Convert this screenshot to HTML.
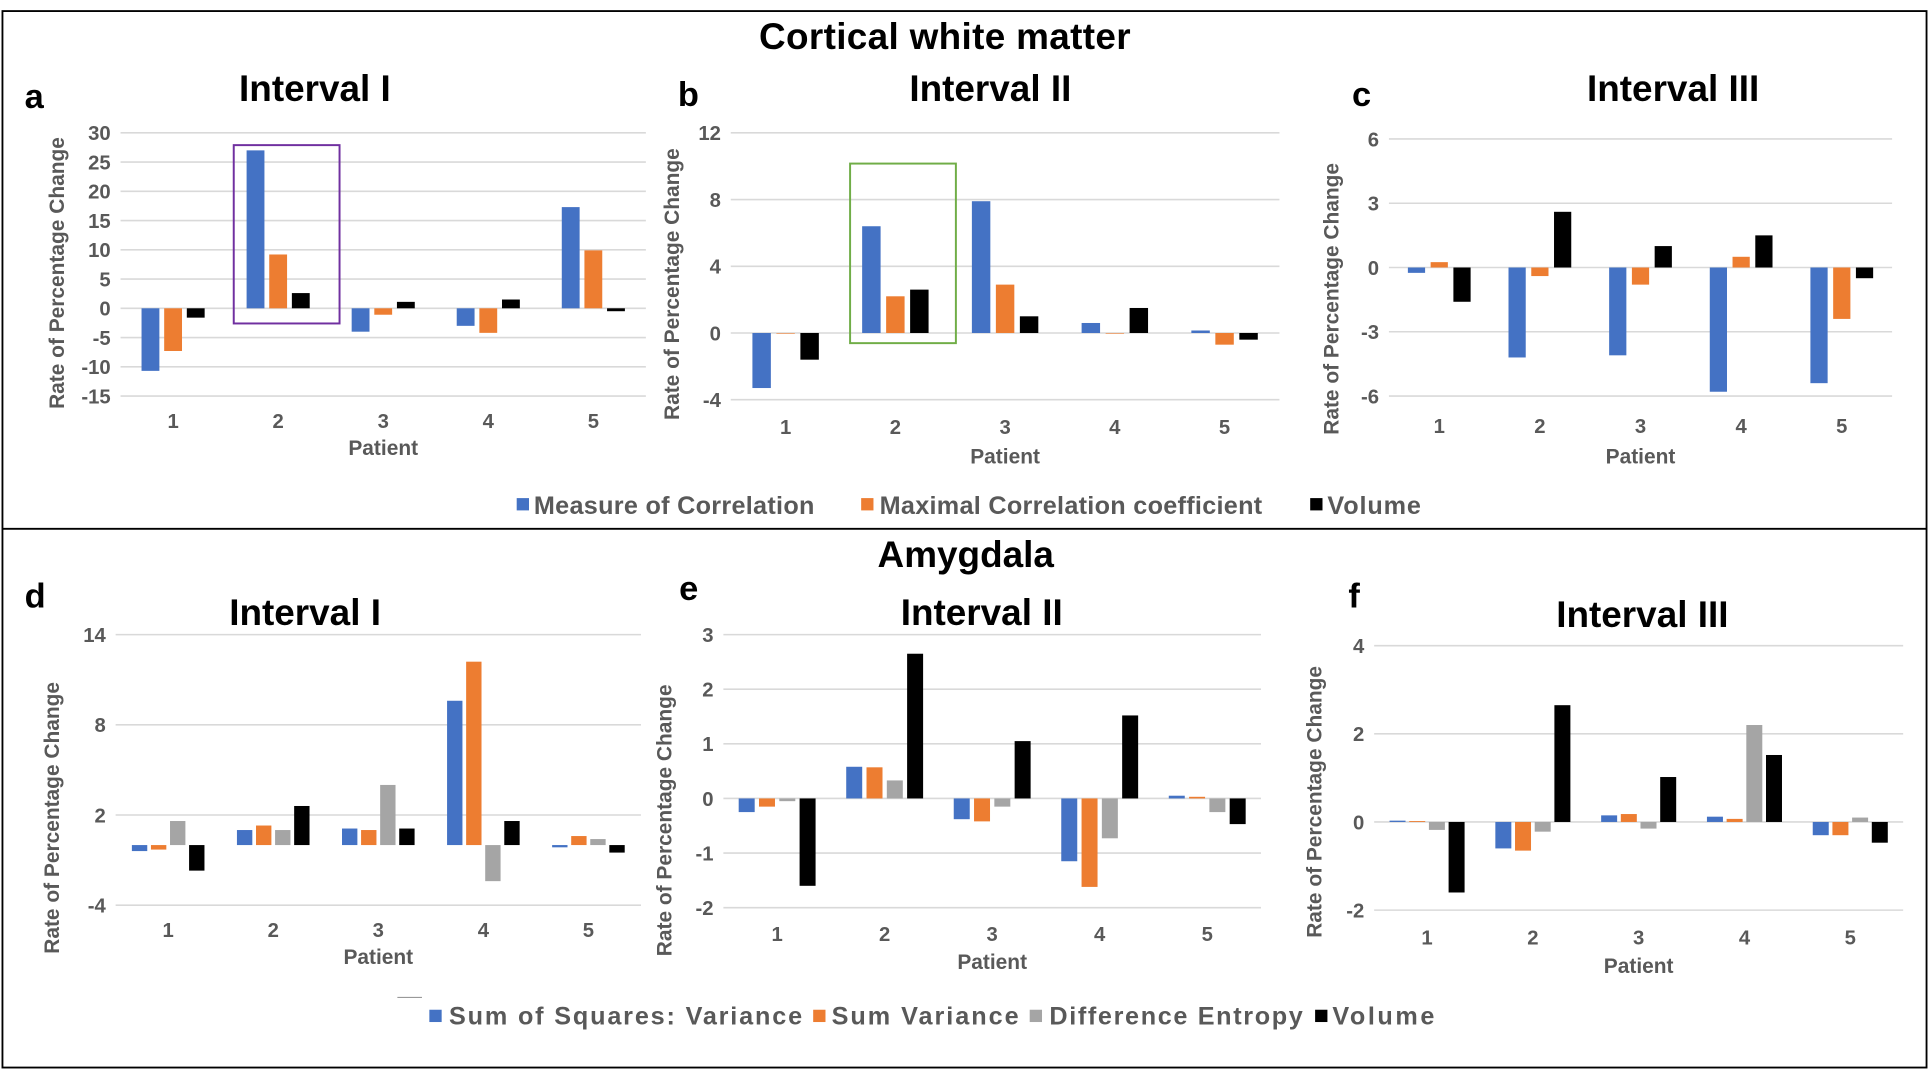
<!DOCTYPE html>
<html><head><meta charset="utf-8">
<style>
html,body{margin:0;padding:0;background:#fff;}
svg{display:block;}
text{font-family:"Liberation Sans",Arial,sans-serif;font-weight:bold;}
</style></head>
<body>
<svg id="fig" width="1929" height="1070" viewBox="0 0 1568 870" preserveAspectRatio="none" xmlns="http://www.w3.org/2000/svg">
<rect x="2" y="9" width="1564" height="859" fill="none" stroke="#000" stroke-width="1.5"/>
<line x1="2" y1="430" x2="1566" y2="430" stroke="#000" stroke-width="1.5"/>
<text x="768" y="40" font-size="30" text-anchor="middle" textLength="302">Cortical white matter</text>
<text x="785" y="461" font-size="30" text-anchor="middle">Amygdala</text>
<g font-size="20.5" fill="#595959">
<rect x="420" y="405" width="10" height="10" fill="#4472c4"/>
<text x="434" y="418" textLength="228">Measure of Correlation</text>
<rect x="700" y="405" width="10" height="10" fill="#ed7d31"/>
<text x="715" y="418" textLength="311">Maximal Correlation coefficient</text>
<rect x="1065" y="405" width="10" height="10" fill="#000"/>
<text x="1079" y="418" textLength="76">Volume</text>
</g>
<g font-size="20.5" fill="#595959">
<line x1="323" y1="811" x2="343" y2="811" stroke="#999" stroke-width="1"/>
<rect x="349" y="821" width="10" height="10" fill="#4472c4"/>
<text x="365" y="833" textLength="287">Sum of Squares: Variance</text>
<rect x="661" y="821" width="10" height="10" fill="#ed7d31"/>
<text x="676" y="833" textLength="152">Sum Variance</text>
<rect x="837" y="821" width="10" height="10" fill="#a5a5a5"/>
<text x="853" y="833" textLength="206">Difference Entropy</text>
<rect x="1069" y="821" width="10" height="10" fill="#000"/>
<text x="1083" y="833" textLength="83">Volume</text>
</g>
</svg>
<script>
const categories = ["1","2","3","4","5"];
// Panel a
const aMoc = [-10.7, 27, -4, -3, 17.3];
const aMcc = [-7.3, 9.2, -1.1, -4.2, 9.9];
const aVol = [-1.6, 2.6, 1.1, 1.5, -0.5];
const aTicks = [30,25,20,15,10,5,0,-5,-10,-15];
// Panel b
const bMoc = [-3.3, 6.4, 7.9, 0.6, 0.15];
const bMcc = [0, 2.2, 2.9, 0, -0.7];
const bVol = [-1.6, 2.6, 1.0, 1.5, -0.4];
const bTicks = [12,8,4,0,-4];
// Panel c
const cMoc = [-0.25, -4.2, -4.1, -5.8, -5.4];
const cMcc = [0.25, -0.4, -0.8, 0.5, -2.4];
const cVol = [-1.6, 2.6, 1.0, 1.5, -0.5];
const cTicks = [6,3,0,-3,-6];
// Panel d
const dSsv = [-0.4, 1.0, 1.1, 9.6, -0.15];
const dSv = [-0.3, 1.3, 1.0, 12.2, 0.6];
const dDe = [1.6, 1.0, 4.0, -2.4, 0.4];
const dVol = [-1.7, 2.6, 1.1, 1.6, -0.5];
const dTicks = [14,8,2,-4];
// Panel e
const eSsv = [-0.25, 0.58, -0.38, -1.15, 0.05];
const eSv = [-0.15, 0.57, -0.42, -1.62, 0.03];
const eDe = [-0.05, 0.33, -0.15, -0.73, -0.25];
const eVol = [-1.6, 2.65, 1.05, 1.52, -0.47];
const eTicks = [3,2,1,0,-1,-2];
// Panel f
const fSsv = [0.03, -0.6, 0.15, 0.12, -0.3];
const fSv = [0.02, -0.65, 0.18, 0.07, -0.3];
const fDe = [-0.18, -0.22, -0.15, 2.2, 0.1];
const fVol = [-1.6, 2.65, 1.02, 1.52, -0.47];
const fTicks = [4,2,0,-2];

const NS = "http://www.w3.org/2000/svg";
const svg = document.getElementById("fig");
function mk(tag, attrs, parent){
  const e = document.createElementNS(NS, tag);
  for (const k in attrs) e.setAttribute(k, attrs[k]);
  (parent||svg).appendChild(e);
  return e;
}
const COLORS3 = ["#4472c4","#ed7d31","#000000"];
const COLORS4 = ["#4472c4","#ed7d31","#a5a5a5","#000000"];

function panel(p){
  const g = mk("g", {});
  
  
  const max = p.ticks[0], min = p.ticks[p.ticks.length-1];
  const y = v => p.yTop + (max - v) / (max - min) * (p.yBot - p.yTop);
  const step = (p.x1 - p.x0) / categories.length;
  const cx = i => p.x0 + step * (i + 0.5);
  p.ticks.forEach(t => {
    const l = mk("line", {x1:p.x0, x2:p.x1, y1:y(t), y2:y(t), stroke:"#d9d9d9", "stroke-width":1.3}, g);
    
    
    const tx = mk("text", {x:p.x0-8, y:y(t)+6, "text-anchor":"end", "font-size":16.5, fill:"#595959"}, g);
    
    
    tx.textContent = t;
  });
  const n = p.series.length;
  const bw = p.bw, bs = p.bs;
  p.series.forEach((s, si) => {
    s.forEach((v, i) => {
      const x = cx(i) - (bs*(n-1))/2 + si*bs - bw/2;
      const y0 = y(0), yv = y(v);
      const r = mk("rect", {x:x, y:Math.min(y0,yv), width:bw, height:Math.max(Math.abs(yv-y0),0.5), fill:p.colors[si]}, g);
      
      
    });
  });
  categories.forEach((c, i) => {
    const tx = mk("text", {x:cx(i), y:p.xTickY, "text-anchor":"middle", "font-size":16.5, fill:"#595959"}, g);
    
    
    tx.textContent = c;
  });
  const xt = mk("text", {x:(p.x0+p.x1)/2, y:p.xTitleY, "text-anchor":"middle", "font-size":17, fill:"#595959"}, g);
  
  
  xt.textContent = "Patient";
  const yt = mk("text", {x:0, y:0, "text-anchor":"middle", "font-size":17, fill:"#595959", transform:`translate(${p.yTitleX},${p.yTitleY}) rotate(-90)`}, g);
  
  
  yt.textContent = "Rate of Percentage Change";
  const tt = mk("text", {x:p.titleX, y:p.titleY, "text-anchor":"middle", "font-size":30, fill:"#000"}, g);
  
  
  tt.textContent = p.title;
  const lt = mk("text", {x:p.letterX, y:p.letterY, "font-size":28, fill:"#000"}, g);
  
  
  lt.textContent = p.id;
  if (p.box){
    const b = mk("rect", {x:p.box[0], y:p.box[1], width:p.box[2], height:p.box[3], fill:"none", stroke:p.box[4], "stroke-width":1.6}, g);
    
    
  }
}
const n3 = ["moc","mcc","volume"], n4 = ["ssv","sv","de","volume"];
panel({id:"a", title:"Interval I", ticks:aTicks, series:[aMoc,aMcc,aVol], colors:COLORS3, names:n3,
  x0:98, x1:525, yTop:108, yBot:322, bw:14.5, bs:18.4, xTickY:348, xTitleY:370, yTitleX:52, yTitleY:222,
  titleX:256, titleY:82, letterX:20, letterY:88, box:[190,118,86,145,"#7030a0"]});
panel({id:"b", title:"Interval II", ticks:bTicks, series:[bMoc,bMcc,bVol], colors:COLORS3, names:n3,
  x0:594, x1:1040, yTop:108, yBot:325, bw:15, bs:19.5, xTickY:353, xTitleY:377, yTitleX:552, yTitleY:231,
  titleX:805, titleY:82, letterX:551, letterY:86, box:[691,133,86,146,"#70ad47"]});
panel({id:"c", title:"Interval III", ticks:cTicks, series:[cMoc,cMcc,cVol], colors:COLORS3, names:n3,
  x0:1129, x1:1538, yTop:113, yBot:322, bw:14, bs:18.5, xTickY:352, xTitleY:377, yTitleX:1088, yTitleY:243,
  titleX:1360, titleY:82, letterX:1099, letterY:86});
panel({id:"d", title:"Interval I", ticks:dTicks, series:[dSsv,dSv,dDe,dVol], colors:COLORS4, names:n4,
  x0:94, x1:521, yTop:516, yBot:736, bw:12.5, bs:15.5, xTickY:762, xTitleY:784, yTitleX:48, yTitleY:665,
  titleX:248, titleY:508, letterX:20, letterY:494});
panel({id:"e", title:"Interval II", ticks:eTicks, series:[eSsv,eSv,eDe,eVol], colors:COLORS4, names:n4,
  x0:588, x1:1025, yTop:516, yBot:738, bw:13, bs:16.5, xTickY:765, xTitleY:788, yTitleX:546, yTitleY:667,
  titleX:798, titleY:508, letterX:552, letterY:488});
panel({id:"f", title:"Interval III", ticks:fTicks, series:[fSsv,fSv,fDe,fVol], colors:COLORS4, names:n4,
  x0:1117, x1:1547, yTop:525, yBot:740, bw:13, bs:16, xTickY:768, xTitleY:791, yTitleX:1074, yTitleY:652,
  titleX:1335, titleY:510, letterX:1096, letterY:494});
</script>
</body></html>
